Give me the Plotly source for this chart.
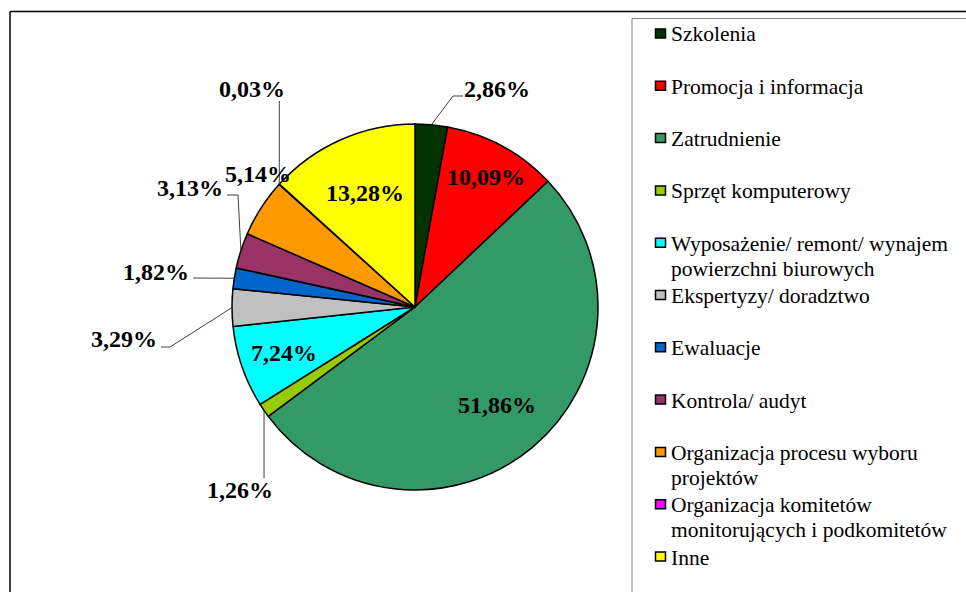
import math
import textwrap
import plotly.graph_objects as go

# Shares of expenditure by category (percent)
categories = [
    "Szkolenia",
    "Promocja i informacja",
    "Zatrudnienie",
    "Sprzęt komputerowy",
    "Wyposażenie/ remont/ wynajem powierzchni biurowych",
    "Ekspertyzy/ doradztwo",
    "Ewaluacje",
    "Kontrola/ audyt",
    "Organizacja procesu wyboru projektów",
    "Organizacja komitetów monitorujących i podkomitetów",
    "Inne",
]
values = [2.86, 10.09, 51.86, 1.26, 7.24, 3.29, 1.82, 3.13, 5.14, 0.03, 13.28]
colors = ["#003300", "#FF0000", "#339966", "#99CC00", "#00FFFF", "#C0C0C0",
          "#0066CC", "#993366", "#FF9900", "#FF00FF", "#FFFF00"]

W, H = 966, 592
CX, CY, R = 415, 307, 183          # pie centre and radius in pixels
SERIF = "Liberation Serif"


def px(x):
    return x / W


def py(y):
    return 1 - y / H


def fmt(v):
    return f"{v:.2f}".replace(".", ",") + "%"


fig = go.Figure(go.Pie(
    labels=categories,
    values=values,
    sort=False,
    direction="clockwise",
    rotation=0,
    marker=dict(colors=colors, line=dict(color="black", width=1.5)),
    textinfo="none",
    hoverinfo="label+percent",
    showlegend=False,
    domain=dict(x=[px(CX - R), px(CX + R)], y=[py(CY + R), py(CY - R)]),
))

# mid-angle of each slice, measured clockwise from 12 o'clock
total = sum(values)
mids = []
acc = 0.0
for v in values:
    mids.append((acc + v / 2) / total * 2 * math.pi)
    acc += v


def polar(ang, r):
    return CX + r * math.sin(ang), CY - r * math.cos(ang)


# label placement: ("in", radius factor) or ("out", label centre, leader knees)
placement = [
    ("out", (497, 89), [(453, 96), (463, 96)]),
    ("in", 0.81, None),
    ("in", 0.70, None),
    ("out", (240, 490), [(264, 478)]),
    ("in", 0.76, None),
    ("out", (124, 339), [(170, 347), (161, 347)]),
    ("out", (156, 272), [(193, 278)]),
    ("out", (190, 188), [(238, 195), (227, 195)]),
    ("near", (258, 174), None),
    ("out", (252, 89), [(279, 101)]),
    ("in", 0.68, None),
]

shapes = []
annotations = []
label_font = dict(family=SERIF, size=24, color="black")

for v, ang, (kind, a, knees) in zip(values, mids, placement):
    if kind == "in":
        x, y = polar(ang, a * R)
    else:
        x, y = a
    if kind == "out":
        pts = [polar(ang, R)] + knees
        if len(knees) == 1 and abs(knees[0][0] - pts[0][0]) < 3:
            pts[1] = (pts[0][0], knees[0][1])
        for (x0, y0), (x1, y1) in zip(pts[:-1], pts[1:]):
            shapes.append(dict(type="line", xref="paper", yref="paper",
                               x0=px(x0), y0=py(y0), x1=px(x1), y1=py(y1),
                               line=dict(color="#404040", width=1)))
    annotations.append(dict(x=px(x), y=py(y), xref="paper", yref="paper",
                            text=f"<b>{fmt(v)}</b>", showarrow=False,
                            xanchor="center", yanchor="middle",
                            font=label_font))

# outer chart frame (top and left edges visible)
shapes.append(dict(type="line", xref="paper", yref="paper",
                   x0=px(10), y0=py(11.5), x1=px(W + 5), y1=py(11.5),
                   line=dict(color="black", width=1.5)))
shapes.append(dict(type="line", xref="paper", yref="paper",
                   x0=px(10), y0=py(11.5), x1=px(10), y1=py(H + 5),
                   line=dict(color="black", width=1.5)))

# legend box
shapes.append(dict(type="rect", xref="paper", yref="paper",
                   x0=px(632), y0=py(18.5), x1=px(W + 10), y1=py(H + 10),
                   line=dict(color="#7f7f7f", width=1), fillcolor="rgba(0,0,0,0)"))

legend_font = dict(family=SERIF, size=21.5, color="black")
row0, row_step, line_step = 33.5, 52.3, 25
for i, (name, col) in enumerate(zip(categories, colors)):
    yc = row0 + i * row_step
    shapes.append(dict(type="rect", xref="paper", yref="paper",
                       x0=px(655.5), y0=py(yc + 4.5), x1=px(665.5), y1=py(yc - 4.5),
                       fillcolor=col, line=dict(color="black", width=1.5)))
    for k, line in enumerate(textwrap.wrap(name, width=29)):
        annotations.append(dict(x=px(669), y=py(yc + k * line_step + 1),
                                xref="paper", yref="paper", text=line,
                                showarrow=False, xanchor="left",
                                yanchor="middle", font=legend_font))

fig.update_layout(
    width=W, height=H,
    margin=dict(l=0, r=0, t=0, b=0),
    paper_bgcolor="white",
    plot_bgcolor="white",
    font=dict(family=SERIF),
    shapes=shapes,
    annotations=annotations,
)

fig.write_html("out.html")
